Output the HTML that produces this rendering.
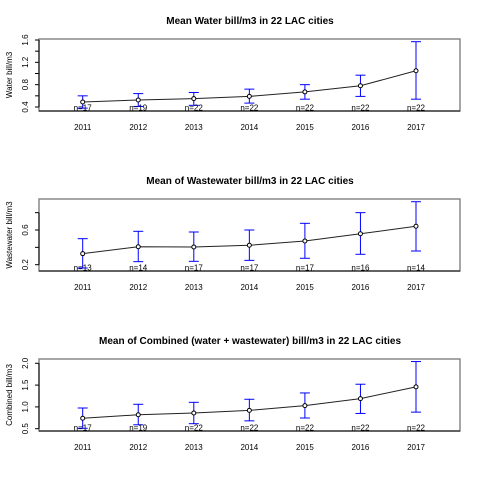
<!DOCTYPE html>
<html><head><meta charset="utf-8"><style>
html,body{margin:0;padding:0;background:#fff;}
svg{display:block;font-family:"Liberation Sans",Arial,sans-serif;}
</style></head><body>
<svg id="chart" width="480" height="480" viewBox="0 0 480 480"></svg>
<script>
const years = ["2011","2012","2013","2014","2015","2016","2017"];
const waterMean = [0.49,0.525,0.55,0.59,0.67,0.78,1.05];
const waterUpper = [0.60,0.64,0.66,0.72,0.80,0.97,1.57];
const waterLower = [0.38,0.41,0.43,0.47,0.54,0.59,0.54];
const waterN = ["n=17","n=19","n=22","n=22","n=22","n=22","n=22"];
const waterTicks = [0.4,0.6,0.8,1.0,1.2,1.4,1.6];
const waterTickLabels = ["0.4","","0.8","","1.2","","1.6"];
const wasteMean = [0.327,0.407,0.404,0.424,0.473,0.557,0.643];
const wasteUpper = [0.50,0.585,0.577,0.60,0.677,0.80,0.926];
const wasteLower = [0.162,0.235,0.239,0.25,0.274,0.32,0.358];
const wasteN = ["n=13","n=14","n=17","n=17","n=17","n=16","n=14"];
const wasteTicks = [0.2,0.4,0.6,0.8];
const wasteTickLabels = ["0.2","","0.6",""];
const combMean = [0.739,0.82,0.86,0.92,1.03,1.19,1.46];
const combUpper = [0.975,1.06,1.105,1.175,1.32,1.52,2.04];
const combLower = [0.51,0.59,0.615,0.68,0.745,0.85,0.88];
const combN = ["n=17","n=19","n=22","n=22","n=22","n=22","n=22"];
const combTicks = [0.5,1.0,1.5,2.0];
const combTickLabels = ["0.5","1.0","1.5","2.0"];

const svg = document.getElementById('chart');
const NS = 'http://www.w3.org/2000/svg';
function mk(tag, attrs, parent){const e=document.createElementNS(NS,tag);for(const k in attrs)e.setAttribute(k,attrs[k]);(parent||svg).appendChild(e);return e;}

const panels = [
 {key:'water', top:0, title:'Mean Water bill/m3 in 22 LAC cities', ylab:'Water bill/m3', mean:waterMean, up:waterUpper, lo:waterLower, n:waterN, ticks:waterTicks, tl:waterTickLabels, v0:0.4, y0:107, v1:1.6, y1:40},
 {key:'wastewater', top:160, title:'Mean of Wastewater bill/m3 in 22 LAC cities', ylab:'Wastewater bill/m3', mean:wasteMean, up:wasteUpper, lo:wasteLower, n:wasteN, ticks:wasteTicks, tl:wasteTickLabels, v0:0.2, y0:104.7, v1:0.6, y1:70},
 {key:'combined', top:320, title:'Mean of Combined (water + wastewater) bill/m3 in 22 LAC cities', ylab:'Combined bill/m3', mean:combMean, up:combUpper, lo:combLower, n:combN, ticks:combTicks, tl:combTickLabels, v0:0.5, y0:108.7, v1:2.0, y1:43.3}
];
const xL=39, xR=460;
function xs(i){return 82.7 + i*(416-82.7)/(years.length-1);}

panels.forEach(p=>{
  const g = mk('g',{});
  
  
  const T=p.top;
  const ys = v => T + p.y0 + (v-p.v0)*(p.y1-p.y0)/(p.v1-p.v0);
  const t = mk('text',{x:250,y:T+24,'text-anchor':'middle','font-size':'10','font-weight':'bold',fill:'#000'},g);
  t.textContent=p.title;
  
  
  const box = mk('rect',{x:xL,y:T+39,width:xR-xL,height:72,fill:'none',stroke:'#888','stroke-width':1.5},g);
  
  
  const xa = mk('line',{x1:xL,y1:T+111,x2:xR,y2:T+111,stroke:'#000','stroke-width':1},g);
  
  
  const ya = mk('line',{x1:xL,y1:ys(p.ticks[0]),x2:xL,y2:ys(p.ticks[p.ticks.length-1]),stroke:'#000','stroke-width':1},g);
  
  
  p.ticks.forEach((v,i)=>{
    const y=ys(v);
    const tk=mk('line',{x1:xL-4,y1:y,x2:xL,y2:y,stroke:'#000'},g);
    
    
    if(p.tl[i]){
      const lb=mk('text',{x:0,y:0,transform:`translate(28,${y}) rotate(-90)`,'text-anchor':'middle','font-size':'8',fill:'#000'},g);
      lb.textContent=p.tl[i];
      
      
    }
  });
  const yl=mk('text',{x:0,y:0,transform:`translate(12,${T+75}) rotate(-90)`,'text-anchor':'middle','font-size':'8',fill:'#000'},g);
  yl.textContent=p.ylab;
  
  
  years.forEach((yr,i)=>{
    const x=xs(i);
    const lb=mk('text',{x:x,y:T+130,'text-anchor':'middle','font-size':'8',fill:'#000'},g);
    lb.textContent=yr;
    
    
    const eg=mk('g',{stroke:'#00f','stroke-width':1},g);
    
    
    mk('line',{x1:x,y1:ys(p.lo[i]),x2:x,y2:ys(p.up[i])},eg);
    mk('line',{x1:x-5,y1:ys(p.up[i]),x2:x+5,y2:ys(p.up[i])},eg);
    mk('line',{x1:x-5,y1:ys(p.lo[i]),x2:x+5,y2:ys(p.lo[i])},eg);
    const nl=mk('text',{x:x,y:T+110.5,'text-anchor':'middle','font-size':'8',fill:'#000'},g);
    nl.textContent=p.n[i];
    
    
  });
  const pts=p.mean.map((v,i)=>xs(i)+','+ys(v)).join(' ');
  const ln=mk('polyline',{points:pts,fill:'none',stroke:'#222','stroke-width':1},g);
  
  
  p.mean.forEach((v,i)=>{
    const c=mk('circle',{cx:xs(i),cy:ys(v),r:2,fill:'#fff',stroke:'#000','stroke-width':1},g);
    
    
  });
});
</script>
</body></html>
